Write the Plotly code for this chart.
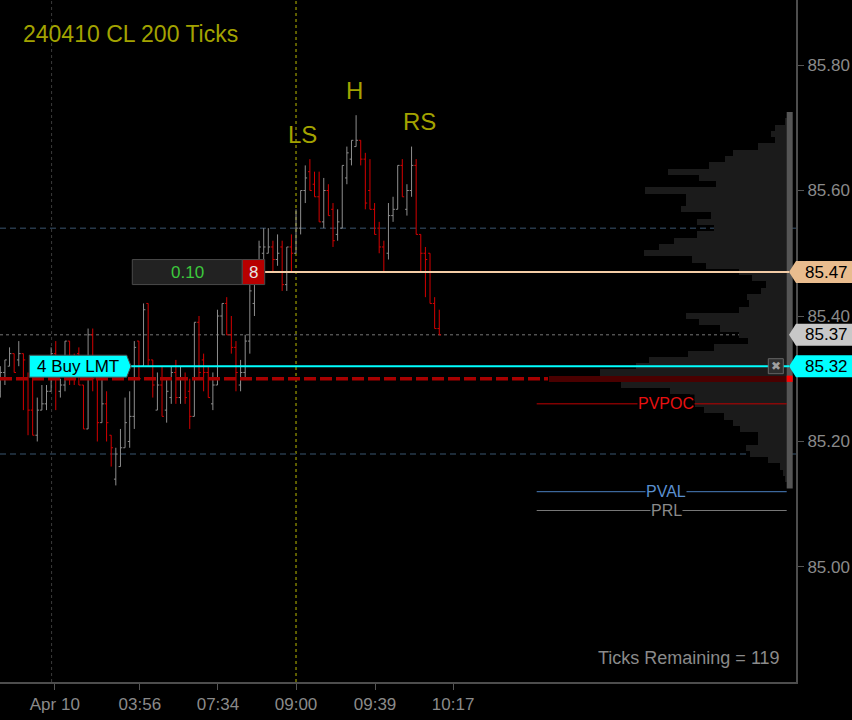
import plotly.graph_objects as go

# 200-tick OHLC bars, CL 240410 (up = close above open)
bar_open = [85.28, 85.31, 85.32, 85.34, 85.33, 85.34, 85.30, 85.25, 85.21, 85.25,
            85.26, 85.28, 85.34, 85.28, 85.29, 85.36, 85.33, 85.34, 85.29, 85.22,
            85.37, 85.30, 85.23, 85.26, 85.21, 85.14, 85.16, 85.19, 85.20, 85.24,
            85.36, 85.32, 85.42, 85.33, 85.25, 85.29, 85.25, 85.27, 85.31, 85.27,
            85.30, 85.28, 85.24, 85.39, 85.33, 85.31, 85.26, 85.29, 85.40, 85.42,
            85.37, 85.35, 85.29, 85.31, 85.36, 85.42, 85.46, 85.50, 85.50, 85.51,
            85.49, 85.51, 85.45, 85.51, 85.50, 85.54, 85.60, 85.63, 85.61, 85.59,
            85.55, 85.60, 85.57, 85.53, 85.54, 85.62, 85.65, 85.67, 85.68, 85.65,
            85.60, 85.57, 85.54, 85.51, 85.50, 85.56, 85.57, 85.64, 85.57, 85.60,
            85.64, 85.53, 85.50, 85.50, 85.42, 85.38]
bar_high = [85.32, 85.33, 85.35, 85.34, 85.36, 85.34, 85.31, 85.30, 85.27, 85.29,
            85.29, 85.35, 85.36, 85.30, 85.36, 85.36, 85.34, 85.35, 85.29, 85.38,
            85.38, 85.30, 85.30, 85.28, 85.21, 85.19, 85.22, 85.27, 85.28, 85.36,
            85.36, 85.42, 85.42, 85.33, 85.31, 85.32, 85.30, 85.32, 85.33, 85.32,
            85.31, 85.30, 85.39, 85.40, 85.34, 85.32, 85.31, 85.41, 85.42, 85.43,
            85.40, 85.36, 85.33, 85.37, 85.45, 85.47, 85.52, 85.54, 85.54, 85.52,
            85.53, 85.52, 85.51, 85.53, 85.57, 85.60, 85.64, 85.65, 85.63, 85.63,
            85.62, 85.61, 85.58, 85.57, 85.64, 85.67, 85.68, 85.72, 85.68, 85.66,
            85.65, 85.58, 85.55, 85.52, 85.58, 85.59, 85.64, 85.65, 85.61, 85.67,
            85.65, 85.53, 85.51, 85.50, 85.43, 85.41]
bar_low = [85.27, 85.29, 85.32, 85.31, 85.32, 85.25, 85.21, 85.21, 85.20, 85.25,
           85.25, 85.28, 85.25, 85.27, 85.28, 85.29, 85.29, 85.29, 85.22, 85.22,
           85.28, 85.20, 85.23, 85.20, 85.16, 85.13, 85.16, 85.19, 85.19, 85.22,
           85.30, 85.32, 85.32, 85.27, 85.25, 85.24, 85.23, 85.26, 85.26, 85.26,
           85.26, 85.22, 85.24, 85.30, 85.28, 85.27, 85.25, 85.29, 85.37, 85.37,
           85.34, 85.28, 85.28, 85.30, 85.34, 85.40, 85.45, 85.49, 85.50, 85.47,
           85.48, 85.44, 85.44, 85.47, 85.50, 85.53, 85.58, 85.60, 85.59, 85.55,
           85.54, 85.56, 85.51, 85.52, 85.54, 85.61, 85.64, 85.67, 85.64, 85.57,
           85.57, 85.53, 85.50, 85.47, 85.49, 85.55, 85.57, 85.59, 85.56, 85.59,
           85.53, 85.47, 85.43, 85.42, 85.38, 85.37]
bar_close = [85.31, 85.33, 85.34, 85.31, 85.34, 85.33, 85.25, 85.21, 85.25, 85.26,
             85.28, 85.34, 85.30, 85.29, 85.36, 85.30, 85.30, 85.29, 85.22, 85.37,
             85.30, 85.23, 85.26, 85.23, 85.19, 85.18, 85.19, 85.23, 85.24, 85.35,
             85.30, 85.41, 85.33, 85.29, 85.29, 85.24, 85.28, 85.31, 85.27, 85.30,
             85.27, 85.24, 85.39, 85.31, 85.31, 85.27, 85.29, 85.40, 85.42, 85.37,
             85.35, 85.31, 85.31, 85.36, 85.44, 85.46, 85.51, 85.51, 85.51, 85.49,
             85.50, 85.45, 85.51, 85.50, 85.54, 85.60, 85.62, 85.60, 85.59, 85.55,
             85.60, 85.56, 85.52, 85.55, 85.64, 85.66, 85.68, 85.68, 85.65, 85.58,
             85.57, 85.53, 85.51, 85.47, 85.56, 85.57, 85.64, 85.59, 85.60, 85.64,
             85.53, 85.50, 85.49, 85.42, 85.38, 85.37]

tick_pos = [11.8, 30.2, 47.1, 64, 81.1, 98]
tick_text = ["Apr 10", "03:56", "07:34", "09:00", "09:39", "10:17"]
session_start = 11.1
rth_open = 64

# volume profile, one row per tick from 85.71 down to 85.14
profile_top = 85.71
profile_vol = [1, 12, 16, 12, 29, 54, 62, 78, 119, 88,
               71, 142, 101, 101, 106, 76, 90, 73, 90, 113,
               128, 143, 95, 81, 48, 35, 21, 26, 40, 38,
               48, 101, 88, 67, 48, 39, 73, 99, 138, 151,
               187, 238, 166, 117, 97, 92, 83, 63, 54, 47,
               29, 29, 41, 37, 19, 7, 4, 1]
profile_prices = [round(profile_top - 0.01 * i, 2) for i in range(len(profile_vol))]
poc_price = 85.30

last_price = 85.37
order_price = 85.32
order_label = "4 Buy LMT"
alert_price = 85.47
alert_text, alert_count = "0.10", "8"
ref_levels = [("PVPOC", 85.26, "#c00000", "#e81010"),
              ("PVAL", 85.12, "#4a7fbf", "#5a8fcf"),
              ("PRL", 85.09, "#777777", "#8a8a8a")]
dash_levels = [85.54, 85.18]
pattern = [("LS", 65.5, 85.69), ("H", 76.6, 85.76), ("RS", 90.8, 85.71)]

FONT = "Liberation Sans, Arial, sans-serif"
W = 796.0  # plot width in px, used for paper positions


def px(v):
    return v / W


fig = go.Figure()

fig.add_trace(go.Ohlc(
    x=list(range(len(bar_open))), open=bar_open, high=bar_high, low=bar_low, close=bar_close,
    increasing=dict(line=dict(color="#8e8e8e", width=1)),
    decreasing=dict(line=dict(color="#d40000", width=1)),
    tickwidth=0.4, hoverinfo="skip", showlegend=False,
))

fig.add_trace(go.Bar(
    x=profile_vol, y=profile_prices, orientation="h", xaxis="x2",
    width=[0.01] * len(profile_vol), offset=-0.005,
    marker=dict(color=["#4a0000" if p == poc_price else "#1b1b1b" for p in profile_prices],
                line=dict(width=0)),
    hoverinfo="skip", showlegend=False,
))

shapes = []
shapes.append(dict(type="line", xref="x", yref="paper", x0=session_start, x1=session_start, y0=0, y1=1,
                   line=dict(color="#3a3a3a", width=1, dash="dot"), layer="below"))
shapes.append(dict(type="line", xref="x", yref="paper", x0=rth_open, x1=rth_open, y0=0, y1=1,
                   line=dict(color="#5e5e00", width=2, dash="dot"), layer="below"))
for lv in dash_levels:
    shapes.append(dict(type="line", xref="paper", yref="y", x0=0, x1=1, y0=lv, y1=lv,
                       line=dict(color="#26384a", width=1.5, dash="6px,4px"), layer="below"))
shapes.append(dict(type="line", xref="paper", yref="y", x0=0, x1=1, y0=last_price, y1=last_price,
                   line=dict(color="#777777", width=1, dash="dot"), layer="below"))
shapes.append(dict(type="line", xref="paper", yref="y", x0=0, x1=px(548), y0=poc_price, y1=poc_price,
                   line=dict(color="#a80000", width=3.5, dash="12px,4px")))
# profile edge strip
shapes.append(dict(type="rect", xref="x2", yref="y", x0=0, x1=-6, y0=profile_prices[-1] - 0.015,
                   y1=profile_top + 0.015, fillcolor="#555555", line=dict(width=0)))
shapes.append(dict(type="rect", xref="x2", yref="y", x0=0, x1=-6, y0=poc_price - 0.005,
                   y1=poc_price + 0.005, fillcolor="#ff0000", line=dict(width=0)))
for name, lv, lc, tc in ref_levels:
    shapes.append(dict(type="line", xref="paper", yref="y", x0=px(536.7), x1=px(786.7), y0=lv, y1=lv,
                       line=dict(color=lc, width=1)))
# order and alert lines
shapes.append(dict(type="line", xref="paper", yref="y", x0=px(131), x1=px(789), y0=order_price,
                   y1=order_price, line=dict(color="#00ffff", width=2)))
shapes.append(dict(type="line", xref="paper", yref="y", x0=px(265), x1=px(789), y0=alert_price,
                   y1=alert_price, line=dict(color="#f3cca6", width=2)))

# price tags on the right axis
h = 11 / 627.5
for price, fill in [(alert_price, "#e9bc8e"), (last_price, "#c8c8c8"), (order_price, "#00ffff")]:
    path = (f"M {px(789)},{price} L {px(796)},{price + h} L {px(852)},{price + h} "
            f"L {px(852)},{price - h} L {px(796)},{price - h} Z")
    shapes.append(dict(type="path", xref="paper", yref="y", path=path, fillcolor=fill,
                       line=dict(width=0)))

# order tag on the left
path = (f"M {px(29.3)},{order_price + h} L {px(126.7)},{order_price + h} L {px(131)},{order_price} "
        f"L {px(126.7)},{order_price - h} L {px(29.3)},{order_price - h} Z")
shapes.append(dict(type="path", xref="paper", yref="y", path=path, fillcolor="#00ffff",
                   line=dict(color="#4a4a4a", width=1)))
hb = 12.5 / 627.5
shapes.append(dict(type="rect", xref="paper", yref="y", x0=px(132.3), x1=px(242.3),
                   y0=alert_price - hb, y1=alert_price + hb, fillcolor="#222222",
                   line=dict(color="#4a4a4a", width=1)))
shapes.append(dict(type="rect", xref="paper", yref="y", x0=px(242.3), x1=px(264.7),
                   y0=alert_price - hb, y1=alert_price + hb, fillcolor="#b80000",
                   line=dict(color="#4a4a4a", width=1)))
hx = 7.5 / 627.5
shapes.append(dict(type="rect", xref="paper", yref="y", x0=px(768.3), x1=px(783.3),
                   y0=order_price - hx, y1=order_price + hx, fillcolor="#2e2e2e",
                   line=dict(color="#666666", width=1)))


def note(text, x, y, size, color, xref="paper", yref="y", xanchor="center", **kw):
    return dict(text=text, x=x, y=y, xref=xref, yref=yref, xanchor=xanchor, yanchor="middle",
                showarrow=False, font=dict(family=kw.pop("family", FONT), size=size, color=color), **kw)


ann = [note("240410 CL 200 Ticks", px(21), 1 - 34 / 682, 23, "#a3a300", yref="paper", xanchor="left")]
for txt, xi, yp in pattern:
    ann.append(note(txt, xi, yp, 24, "#a3a300", xref="x"))
ann.append(note("Ticks Remaining = 119", px(782), 1 - 658 / 682, 18, "#8a8a8a", yref="paper",
                xanchor="right"))
for price in [alert_price, last_price, order_price]:
    ann.append(note(f"{price:.2f}", px(826), price, 17, "#000000"))
ann.append(note(order_label, px(78), order_price, 17, "#000000"))
ann.append(note(alert_text, px(187.3), alert_price, 17, "#3cc83c"))
ann.append(note(alert_count, px(253.5), alert_price, 17, "#e6e6e6"))
ann.append(note("✖", px(775.8), order_price, 12, "#a0a0a0", family="DejaVu Sans"))
for name, lv, lc, tc in ref_levels:
    ann.append(note(name, px(666), lv, 16, tc, bgcolor="#000000", borderpad=0))

fig.update_layout(
    width=852, height=720,
    margin=dict(l=0, r=56, t=0, b=38),
    paper_bgcolor="#000000", plot_bgcolor="#000000",
    shapes=shapes, annotations=ann, hovermode=False, showlegend=False, bargap=0,
    xaxis=dict(range=[-0.065, 172.2], tickvals=tick_pos, ticktext=tick_text,
               showgrid=False, zeroline=False, showline=True, linecolor="#4d4d4d", linewidth=2,
               ticks="outside", ticklen=6, tickcolor="#555555",
               tickfont=dict(family=FONT, size=17, color="#8a8a8a"),
               rangeslider=dict(visible=False), fixedrange=True, automargin=False),
    xaxis2=dict(overlaying="x", range=[786.7, -9.3], visible=False, fixedrange=True),
    yaxis=dict(range=[84.8167, 85.9036], side="right", tickvals=[85.0, 85.2, 85.4, 85.6, 85.8],
               tickformat=".2f", showgrid=False, zeroline=False, showline=True,
               linecolor="#4d4d4d", linewidth=2, ticks="outside", ticklen=6, tickcolor="#555555",
               tickfont=dict(family=FONT, size=17, color="#8a8a8a"), fixedrange=True,
               automargin=False),
)

fig.write_html("out.html", config={"displayModeBar": False},
               post_script="document.body.style.margin='0px';document.body.style.background='#000';")
